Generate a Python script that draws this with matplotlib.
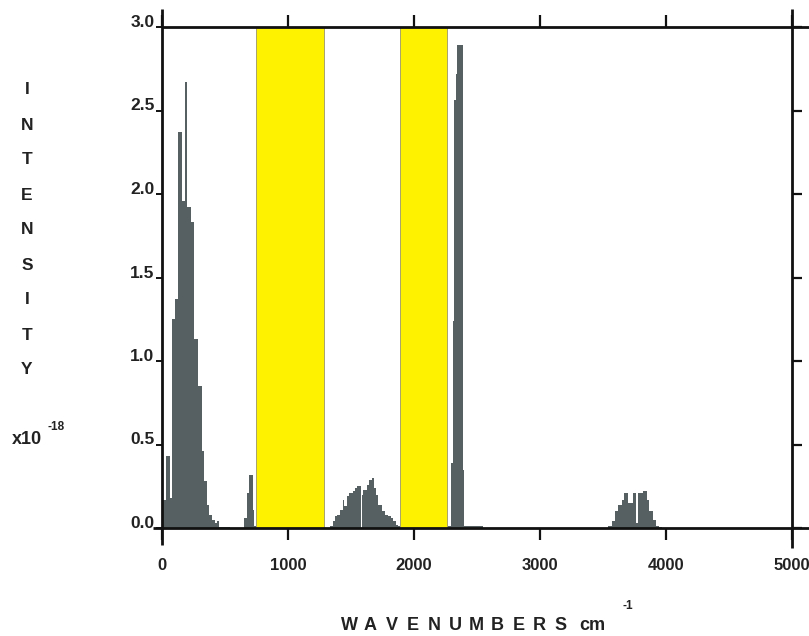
import matplotlib
matplotlib.use("Agg")
import matplotlib.pyplot as plt
from matplotlib.lines import Line2D

# ---------------- data ----------------
# low-frequency band
lo_edges = [3, 32, 63, 77, 103, 130, 156, 183, 201, 228, 257, 288, 315, 336,
            354, 373, 395, 420, 440, 455, 540]
lo_vals = [0.17, 0.43, 0.18, 1.25, 1.37, 2.37, 1.96, 2.67, 1.92, 1.83, 1.13,
           0.85, 0.46, 0.28, 0.14, 0.08, 0.05, 0.03, 0.04, 0.008]
# band near 700
b700_edges = [651, 677, 693, 720, 730, 746]
b700_vals = [0.06, 0.21, 0.32, 0.11, 0.01]
# band 1300-1900
mid_edges = [1333, 1354, 1373, 1391, 1412, 1434, 1447, 1465, 1486, 1513, 1531,
             1550, 1566, 1576, 1584, 1598, 1624, 1645, 1664, 1682, 1698, 1717,
             1743, 1770, 1796, 1815, 1836, 1857, 1875, 1889]
mid_vals = [0.01, 0.04, 0.07, 0.08, 0.11, 0.17, 0.13, 0.19, 0.21, 0.22, 0.24,
            0.25, 0.25, 0.0, 0.20, 0.23, 0.26, 0.29, 0.30, 0.24, 0.20, 0.14,
            0.10, 0.08, 0.07, 0.06, 0.04, 0.02, 0.01]
# strong band near 2350
co2_edges = [2265, 2291, 2307, 2320, 2335, 2340, 2386, 2397, 2550]
co2_vals = [0.01, 0.39, 1.24, 2.56, 2.72, 2.89, 0.35, 0.01]
# band near 3700
hi_edges = [3542, 3569, 3595, 3622, 3648, 3667, 3701, 3736, 3762, 3780, 3820,
            3847, 3868, 3894, 3921, 3947, 3966]
hi_vals = [0.01, 0.04, 0.10, 0.14, 0.17, 0.21, 0.15, 0.21, 0.03, 0.21, 0.22,
           0.17, 0.10, 0.05, 0.01, 0.005]

# shaded (yellow) windows
windows = [(746, 1286), (1889, 2262)]

x_ticks = [0, 1000, 2000, 3000, 4000, 5000]
x_ticklabels = ["0", "1000", "2000", "3000", "4000", "5000"]
y_ticks = [0.0, 0.5, 1.0, 1.5, 2.0, 2.5, 3.0]
y_ticklabels = ["0.0", "0.5", "1.0", "1.5", "2.0", "2.5", "3.0"]

ylabel_letters = "INTENSITY"
xlabel_letters = "WAVENUMBERS"

# ---------------- figure ----------------
plt.rcParams['font.family'] = ['Liberation Sans', 'DejaVu Sans']
W, H = 809, 636
fig = plt.figure(figsize=(W / 100, H / 100), dpi=100)
ax = fig.add_axes([162 / W, (H - 528) / H, (792 - 162) / W, (528 - 27) / H])
ax.set_xlim(0, 5000)
ax.set_ylim(0, 3.0)

bar_color = '#566062'
for e, v in [(lo_edges, lo_vals), (b700_edges, b700_vals), (mid_edges, mid_vals),
             (co2_edges, co2_vals), (hi_edges, hi_vals)]:
    ax.stairs(v, e, fill=True, color=bar_color, lw=0, zorder=2)

for a, b in windows:
    ax.axvspan(a, b, ymin=0, ymax=1, facecolor='#fff200', edgecolor='#a8a36a',
               lw=0.7, zorder=3)

for s in ax.spines.values():
    s.set_visible(False)

lw = 2.0
ext = dict(color='#111111', lw=lw, clip_on=False, zorder=5, solid_capstyle='butt')
ax.add_line(Line2D([0, 0], [-0.10, 3.11], **ext))
ax.add_line(Line2D([5000, 5000], [-0.12, 3.11], **ext))
ax.add_line(Line2D([0, 5200], [3.0, 3.0], **ext))
ax.add_line(Line2D([-71, 5200], [0.0, 0.0], **ext))

ax.set_xticks(x_ticks)
ax.set_xticklabels(x_ticklabels)
ax.set_yticks(y_ticks)
ax.set_yticklabels(y_ticklabels)
ax.tick_params(axis='x', which='both', direction='out', length=8.5, width=1.6,
               top=True, bottom=True, pad=13, labelsize=12, color='#111111',
               labelcolor='#222222')
ax.tick_params(axis='y', which='both', direction='out', length=4.5, width=1.4,
               left=True, right=False, pad=1, labelsize=12.5, color='#111111',
               labelcolor='#222222')
for lbl in ax.get_xticklabels():
    lbl.set_fontweight('bold')
for lbl in ax.get_yticklabels():
    lbl.set_fontweight('bold')
    lbl.set_verticalalignment('baseline')

axr = ax.twinx()
axr.set_ylim(0, 3.0)
axr.set_yticks(y_ticks)
axr.tick_params(axis='y', direction='out', length=7.5, width=1.6, right=True,
                labelright=False, color='#111111')
for s in axr.spines.values():
    s.set_visible(False)


def px(x, y):
    return x / W, 1 - y / H


# vertical y label letters
for i, ch in enumerate(ylabel_letters):
    fig.text(*px(27, 90 + 35 * i), ch, ha='center', va='center',
             fontsize=12.5, fontweight='bold', color='#222222')
fig.text(*px(12, 440), "x10", ha='left', va='center', fontsize=13,
         fontweight='bold', color='#222222')
fig.text(*px(47, 427), "-18", ha='left', va='center', fontsize=8.5,
         fontweight='bold', color='#222222')

# x label letters
for i, ch in enumerate(xlabel_letters):
    fig.text(*px(349 + 21.2 * i, 625), ch, ha='center', va='center',
             fontsize=13, fontweight='bold', color='#222222')
fig.text(*px(592, 625), "cm", ha='center', va='center', fontsize=13,
         fontweight='bold', color='#222222')
fig.text(*px(628, 606), "-1", ha='center', va='center', fontsize=8.5,
         fontweight='bold', color='#222222')

fig.savefig("out.png", dpi=100)
